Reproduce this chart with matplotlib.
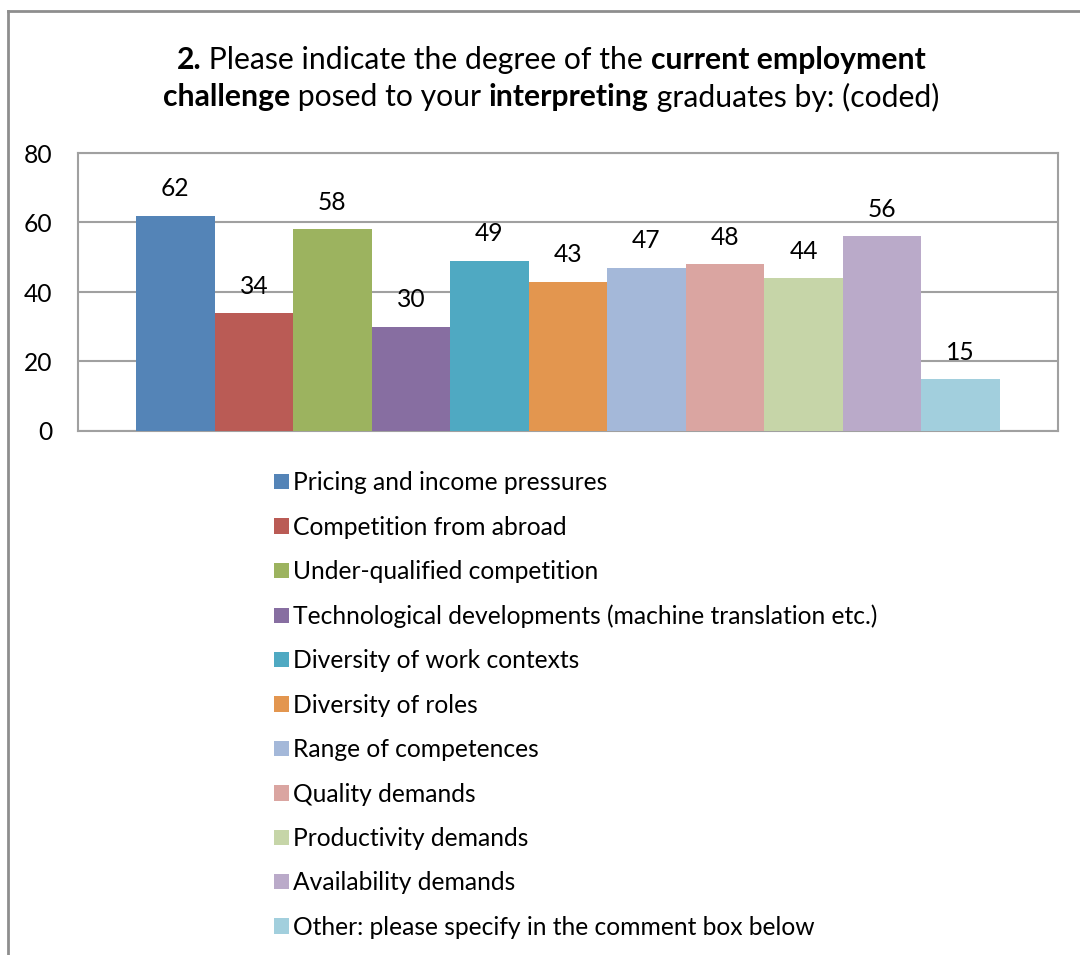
import matplotlib
matplotlib.use("Agg")
import matplotlib.pyplot as plt
from matplotlib.patches import Patch
from matplotlib.lines import Line2D
import numpy as np

plt.rcParams['font.family'] = ['Lato', 'DejaVu Sans']

categories = [
    "Pricing and income pressures",
    "Competition from abroad",
    "Under-qualified competition",
    "Technological developments (machine translation etc.)",
    "Diversity of work contexts",
    "Diversity of roles",
    "Range of competences",
    "Quality demands",
    "Productivity demands",
    "Availability demands",
    "Other: please specify in the comment box below",
]
values = [62, 34, 58, 30, 49, 43, 47, 48, 44, 56, 15]
colors = ["#5484B7", "#BA5B55", "#9CB35F", "#876EA1", "#4FA9C2", "#E3964F",
          "#A4B8D9", "#DAA5A1", "#C6D5A8", "#BAAAC9", "#A2CFDD"]
yticks = [0, 20, 40, 60, 80]

title_lines = [
    [("2.", "bold"), (" Please indicate the degree of the ", "normal"),
     ("current employment", "bold")],
    [("challenge", "bold"), (" posed to your ", "normal"),
     ("interpreting", "bold"), (" graduates by: (coded)", "normal")],
]

W, H = 1080, 955
fig = plt.figure(figsize=(W / 100, H / 100), dpi=100)

# chart frame (left and top edges)
frame_col = "#8E8E8E"
fig.add_artist(Line2D([7.5 / W, 7.5 / W], [0, 1 - 11.5 / H], transform=fig.transFigure,
                      color=frame_col, lw=2))
fig.add_artist(Line2D([7.5 / W, 1], [1 - 11.5 / H, 1 - 11.5 / H], transform=fig.transFigure,
                      color=frame_col, lw=2))

ax = fig.add_axes([78 / W, 1 - 431 / H, (1058 - 78) / W, (431 - 153) / H])
x = np.arange(len(values))
bars = ax.bar(x, values, width=1.0, color=colors, edgecolor="none", zorder=3)
gap = 0.74
ax.set_xlim(-0.5 - gap, len(values) - 0.5 + gap)
ax.set_ylim(0, 80)
ax.set_yticks(yticks)
ax.set_xticks([])
ax.tick_params(axis='y', length=0, pad=18.5, labelsize=17.7, colors="black")
ax.grid(axis='y', color="#A0A0A0", lw=1.5, zorder=0)
for s in ax.spines.values():
    s.set_color("#A0A0A0")
    s.set_linewidth(1.5)

for b, v in zip(bars, values):
    ax.annotate(f"{v}", (b.get_x() + b.get_width() / 2, v), xytext=(0, 11),
                textcoords="offset points", ha="center", va="bottom", fontsize=17.7)

# legend
handles = [Patch(facecolor=c, edgecolor="none") for c in colors]
fig.legend(handles, categories, loc="upper left",
           bbox_to_anchor=(262 / W, 1 - 459 / H), frameon=False,
           fontsize=17.7, handlelength=0.58, handleheight=0.58, handletextpad=0.2,
           labelspacing=0.87, borderpad=0)

# title with mixed weights, centred per line
renderer = fig.canvas.get_renderer()
cx = 551
line_y = [60, 97]
for segs, ly in zip(title_lines, line_y):
    texts = []
    for s, w in segs:
        t = fig.text(0, 1 - ly / H, s, fontsize=21.7, fontweight=w, va="center", ha="left")
        texts.append(t)
    widths = [t.get_window_extent(renderer).width for t in texts]
    xs = cx - sum(widths) / 2
    for t, w in zip(texts, widths):
        t.set_x(xs / W)
        xs += w

fig.savefig("out.png", dpi=100)
